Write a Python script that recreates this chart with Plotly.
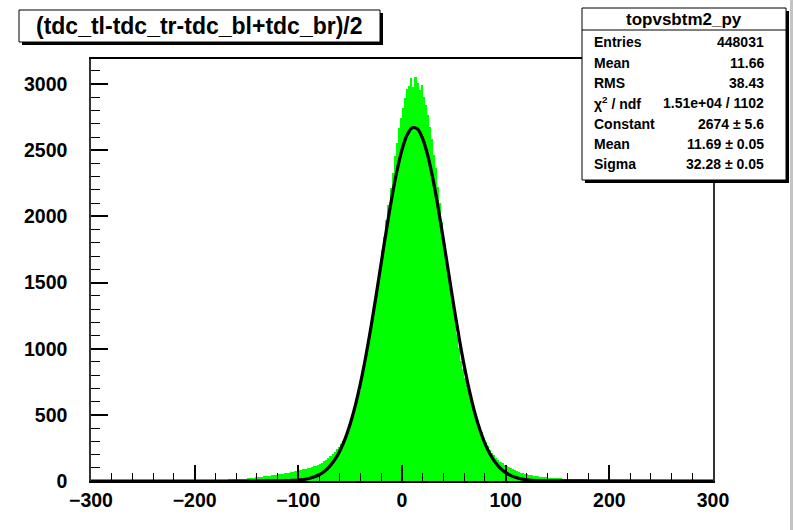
import numpy as np
import plotly.graph_objects as go

# ---------------- data ----------------
hist_title = "(tdc_tl-tdc_tr-tdc_bl+tdc_br)/2"
hist_lo = -180
bin_width = 2
counts = [
    4, 5, 4, 6, 7, 6, 8, 9, 9, 11,
    12, 13, 14, 16, 17, 19, 21, 22, 25, 27,
    28, 31, 32, 35, 36, 39, 41, 43, 45, 48,
    50, 52, 56, 58, 62, 64, 68, 70, 74, 77,
    80, 83, 88, 91, 96, 100, 104, 110, 115, 122,
    130, 139, 150, 161, 176, 189, 206, 221, 240, 259,
    282, 304, 336, 368, 410, 452, 506, 558, 622, 684,
    782, 854, 940, 1022, 1116, 1206, 1308, 1404, 1516, 1618,
    1744, 1846, 1972, 2084, 2214, 2326, 2458, 2552, 2668, 2746,
    2822, 2898, 2964, 2986, 3046, 2978, 3052, 3008, 2958, 2992,
    2904, 2846, 2766, 2674, 2586, 2466, 2364, 2226, 2104, 1958,
    1790, 1680, 1566, 1450, 1336, 1222, 1112, 1006, 910, 846,
    782, 724, 668, 614, 560, 508, 458, 412, 368, 328,
    292, 262, 238, 214, 196, 176, 162, 146, 134, 122,
    112, 104, 97, 88, 82, 76, 70, 64, 59, 54,
    50, 47, 44, 41, 38, 36, 33, 31, 29, 27,
    26, 24, 23, 22, 21, 20, 19, 18, 17, 16,
    15, 14, 13, 12, 11, 10, 9, 8, 8, 7,
    6, 5, 5, 4, 4, 3, 3, 2, 2, 1,
]
centers = hist_lo + bin_width / 2 + bin_width * np.arange(len(counts))

fit_x = [-300, -150, -130, -120, -110, -100, -95, -90, -85, -80, -75, -70, -65, -60, -55,
         -50, -45, -40, -35, -30, -25, -20, -15, -10, -5, 0, 5, 10, 15, 20,
         25, 30, 35, 40, 45, 50, 55, 60, 65, 70, 75, 80, 85, 90, 95,
         100, 105, 110, 115, 120, 130, 140, 150, 300]
fit_y = [0, 0.05, 0.2, 0.65, 2.2, 6.7, 11.4, 18.7, 30.1, 47.3, 72.6, 108.7, 159, 226.9, 316.4,
         430.8, 571.5, 741.2, 938.8, 1160.6, 1400.9, 1651.2, 1899.4, 2133.6, 2339.5, 2504.2, 2617.3, 2670.3, 2660.1, 2586.9,
         2456.1, 2276.7, 2060.3, 1820.2, 1570.2, 1322.3, 1087.2, 872.5, 683.7, 523.0, 390.7, 285.0, 202.8, 141.0, 95.7,
         63.4, 41.0, 25.9, 15.9, 9.6, 3.2, 1.0, 0.3, 0]

stats_title = "topvsbtm2_py"
stats_labels = ["Entries", "Mean", "RMS", "χ<sup>2</sup> / ndf", "Constant", "Mean", "Sigma"]
stats_values = ["448031", "11.66", "38.43", "1.51e+04 / 1102", "2674 ± 5.6", "11.69 ± 0.05", "32.28 ± 0.05"]

x_range = [-300, 300]
y_range = [0, 3190]

# ---------------- layout helpers (pixels -> paper) ----------------
W_FIG, H_FIG = 796, 530
L, R, T, B = 91, 713, 59, 481
PW, PH = R - L, B - T


def px(x):
    return (x - L) / PW


def py(y):
    return (B - y) / PH


FONT = "Liberation Sans, Arial, Helvetica, sans-serif"

fig = go.Figure()
fig.add_trace(go.Bar(x=centers, y=counts, width=bin_width,
                     marker=dict(color="#00ff00", line=dict(width=0)),
                     hoverinfo="skip", showlegend=False))
fig.add_trace(go.Scatter(x=fit_x, y=fit_y, mode="lines",
                         line=dict(color="black", width=3.2, shape="spline", smoothing=0.8),
                         hoverinfo="skip", showlegend=False))

shapes = []
# title box with shadow
shapes.append(dict(type="rect", xref="paper", yref="paper", x0=px(22), x1=px(383), y0=py(13), y1=py(45),
                   fillcolor="black", line=dict(width=0), layer="above"))
shapes.append(dict(type="rect", xref="paper", yref="paper", x0=px(19), x1=px(380), y0=py(10), y1=py(42),
                   fillcolor="white", line=dict(color="black", width=1), layer="above"))
# stats box with shadow
shapes.append(dict(type="rect", xref="paper", yref="paper", x0=px(585), x1=px(789), y0=py(11), y1=py(183),
                   fillcolor="black", line=dict(width=0), layer="above"))
shapes.append(dict(type="rect", xref="paper", yref="paper", x0=px(582), x1=px(786), y0=py(8), y1=py(180),
                   fillcolor="white", line=dict(color="black", width=1), layer="above"))
shapes.append(dict(type="line", xref="paper", yref="paper", x0=px(582), x1=px(786), y0=py(30), y1=py(30),
                   line=dict(color="black", width=1), layer="above"))
# grey bar at the right edge of the canvas
shapes.append(dict(type="line", xref="paper", yref="paper", x0=px(791.5), x1=px(791.5), y0=py(0), y1=py(530),
                   line=dict(color="#c4c4c4", width=3), layer="above"))

annotations = []
annotations.append(dict(text=hist_title, xref="paper", yref="paper", x=px(199.5), y=py(26),
                        xanchor="center", yanchor="middle", showarrow=False,
                        font=dict(family=FONT, size=23, color="black", weight="bold")))
annotations.append(dict(text=stats_title, xref="paper", yref="paper", x=px(684), y=py(19.5),
                        xanchor="center", yanchor="middle", showarrow=False,
                        font=dict(family=FONT, size=17, color="black", weight="bold")))
row_y = [42, 63, 83, 103, 124, 144, 164]
for lab, val, yy in zip(stats_labels, stats_values, row_y):
    annotations.append(dict(text=lab, xref="paper", yref="paper", x=px(592), y=py(yy),
                            xanchor="left", yanchor="middle", showarrow=False,
                            font=dict(family=FONT, size=14, color="black", weight="bold")))
    annotations.append(dict(text=val, xref="paper", yref="paper", x=px(766), y=py(yy),
                            xanchor="right", yanchor="middle", showarrow=False,
                            font=dict(family=FONT, size=14, color="black", weight="bold")))

fig.update_layout(
    width=W_FIG, height=H_FIG,
    margin=dict(l=L, r=W_FIG - R, t=T, b=H_FIG - B, pad=0),
    paper_bgcolor="white", plot_bgcolor="white",
    bargap=0, showlegend=False,
    shapes=shapes, annotations=annotations,
    xaxis=dict(range=x_range, showgrid=False, zeroline=False,
               showline=True, linecolor="black", linewidth=2, mirror=True,
               ticks="inside", ticklen=16, tickwidth=1.5, tickcolor="black",
               tick0=0, dtick=100,
               minor=dict(ticks="inside", ticklen=8, tickwidth=1.2, tickcolor="black", dtick=20),
               tickfont=dict(family=FONT, size=19.5, color="black", weight="bold"),
               ticklabelstandoff=1),
    yaxis=dict(range=y_range, showgrid=False, zeroline=False,
               showline=True, linecolor="#333333", linewidth=1.5, mirror=True,
               ticks="inside", ticklen=17, tickwidth=1.5, tickcolor="black",
               tick0=0, dtick=500,
               minor=dict(ticks="inside", ticklen=9, tickwidth=1.2, tickcolor="black", dtick=100),
               tickfont=dict(family=FONT, size=19.5, color="black", weight="bold"),
               ticklabelstandoff=18),
)

fig.write_html("out.html")
